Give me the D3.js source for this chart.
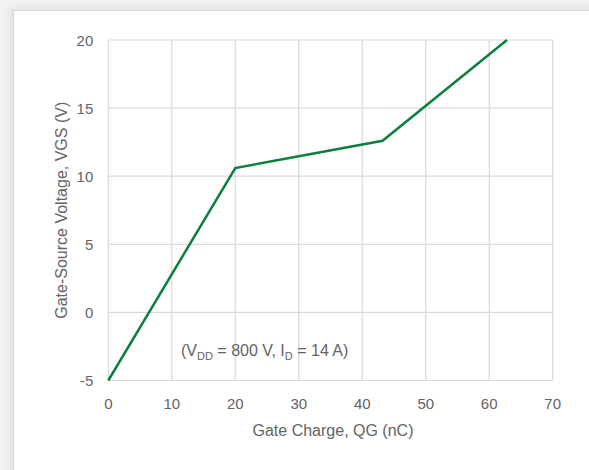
<!DOCTYPE html>
<html>
<head>
<meta charset="utf-8">
<script src="https://cdn.jsdelivr.net/npm/d3@7"></script>
<style>
  html, body { margin: 0; padding: 0; background: #f2f2f2; }
  #frame {
    position: absolute; left: 13px; top: 10px; width: 600px; height: 480px;
    background: #fff; border-top: 1px solid #d6d6d6; border-left: 1px solid #d6d6d6;
    box-shadow: -4px -3px 6px rgba(0,0,0,0.06);
  }
  #chart { position: absolute; left: 0; top: 0; }
  text { font-family: "Liberation Sans", Arial, sans-serif; fill: #636363; }
</style>
</head>
<body>
<div id="frame"></div>
<svg id="chart" width="589" height="470"></svg>
<script>
// Gate charge curve
const qg = [0, 20, 43.2, 62.8];
const vgs = [-5, 10.6, 12.6, 20];
const xTicks = [0, 10, 20, 30, 40, 50, 60, 70];
const yTicks = [-5, 0, 5, 10, 15, 20];

const svg = d3.select("#chart");
const plotLeft = 108.3, plotRight = 552.7, plotTop = 40, plotBottom = 380.5;

const x = d3.scaleLinear().domain([0, 70]).range([plotLeft, plotRight]);
const y = d3.scaleLinear().domain([-5, 20]).range([plotBottom, plotTop]);

// grid
svg.append("g").selectAll("line").data(xTicks).enter().append("line")
    .attr("x1", d => x(d)).attr("x2", d => x(d))
    .attr("y1", plotTop).attr("y2", plotBottom)
    .attr("stroke", "#d9d9d9").attr("stroke-width", 1.2);
svg.append("g").selectAll("line").data(yTicks).enter().append("line")
    .attr("x1", plotLeft).attr("x2", plotRight)
    .attr("y1", d => y(d)).attr("y2", d => y(d))
    .attr("stroke", "#d9d9d9").attr("stroke-width", 1.2);

// tick labels
svg.append("g").selectAll("text").data(xTicks).enter().append("text")
    .attr("x", d => x(d)).attr("y", plotBottom + 28.5)
    .attr("text-anchor", "middle").style("font-size", "15px")
    .text(d => d);
svg.append("g").selectAll("text").data(yTicks).enter().append("text")
    .attr("x", plotLeft - 15).attr("y", d => y(d) + 5.5)
    .attr("text-anchor", "end").style("font-size", "15px")
    .text(d => d);

// axis titles
svg.append("text")
    .attr("x", 333).attr("y", 436)
    .attr("text-anchor", "middle").style("font-size", "16px")
    .text("Gate Charge, QG (nC)");
svg.append("text")
    .attr("transform", `translate(67,${(plotTop + plotBottom) / 2}) rotate(-90)`)
    .attr("text-anchor", "middle").style("font-size", "16px")
    .text("Gate-Source Voltage, VGS (V)");

// curve
const pts = qg.map((d, i) => [d, vgs[i]]);
svg.append("path")
    .datum(pts)
    .attr("fill", "none")
    .attr("stroke", "#0b7f3d")
    .attr("stroke-width", 2.5)
    .attr("d", d3.line().x(d => x(d[0])).y(d => y(d[1])));

// annotation
const ann = svg.append("text")
    .attr("x", 181).attr("y", 356)
    .style("font-size", "16px");
ann.append("tspan").text("(V");
ann.append("tspan").attr("dy", 3.5).style("font-size", "11px").text("DD");
ann.append("tspan").attr("dy", -3.5).text(" = 800 V, I");
ann.append("tspan").attr("dy", 3.5).style("font-size", "11px").text("D");
ann.append("tspan").attr("dy", -3.5).text(" = 14 A)");
</script>
</body>
</html>
